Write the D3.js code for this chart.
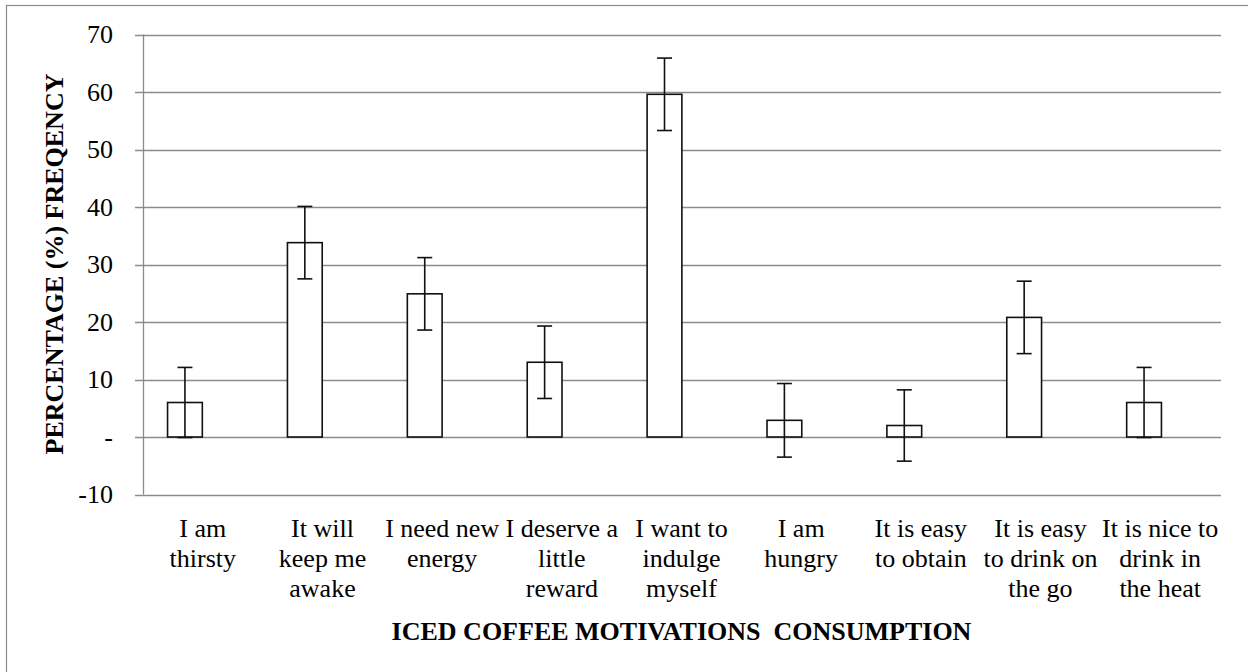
<!DOCTYPE html>
<html>
<head>
<meta charset="utf-8">
<script src="https://cdn.jsdelivr.net/npm/d3@7"></script>
<style>
  html, body { margin: 0; padding: 0; background: #fff; }
  svg { display: block; }
</style>
</head>
<body>
<svg id="chart" width="1248" height="672"></svg>
<script>
// ---- data ----
const categories = [
  "I am\nthirsty",
  "It will\nkeep me\nawake",
  "I need new\nenergy",
  "I deserve a\nlittle\nreward",
  "I want to\nindulge\nmyself",
  "I am\nhungry",
  "It is easy\nto obtain",
  "It is easy\nto drink on\nthe go",
  "It is nice to\ndrink in\nthe heat"
];
const values = [6, 33.8, 24.9, 13, 59.6, 2.9, 2, 20.8, 6];
const errors = [6.1, 6.3, 6.3, 6.3, 6.3, 6.4, 6.2, 6.3, 6.1];
const yTicks = [-10, 0, 10, 20, 30, 40, 50, 60, 70];
const yTickLabels = ["-10", "-", "10", "20", "30", "40", "50", "60", "70"];
const yTitle = "PERCENTAGE (%) FREQENCY";
const xTitle = "ICED COFFEE MOTIVATIONS  CONSUMPTION";

const FONT = "'Liberation Serif', 'Times New Roman', Times, 'DejaVu Serif', serif";

// ---- layout ----
const svg = d3.select("#chart");
const plotLeft = 143, plotRight = 1221;

const y = d3.scaleLinear().domain([-10, 70]).range([494.5, 34.5]);
const xLabel = d3.scaleBand().domain(d3.range(categories.length)).range([143, 1220]).padding(0);
const xBar = d3.scaleBand().domain(d3.range(categories.length)).range([125, 1204])
  .paddingInner(0.71).paddingOuter(0.355);

// outer border
svg.append("rect").attr("x", 6.5).attr("y", 5.5).attr("width", 1260).attr("height", 700)
  .attr("fill", "#fff").attr("stroke", "#8a8a8a").attr("stroke-width", 1.2);

// gridlines (also act as tick marks)
svg.append("g").selectAll("line").data(yTicks).join("line")
  .attr("x1", 135).attr("x2", plotRight)
  .attr("y1", d => Math.round(y(d)) + 0.5).attr("y2", d => Math.round(y(d)) + 0.5)
  .attr("stroke", "#8c8c8c").attr("stroke-width", 1.3);

// y axis line
svg.append("line").attr("x1", plotLeft + 0.5).attr("x2", plotLeft + 0.5)
  .attr("y1", y(70)).attr("y2", y(-10))
  .attr("stroke", "#8c8c8c").attr("stroke-width", 1.3);

// y tick labels
svg.append("g").selectAll("text").data(yTicks).join("text")
  .attr("font-family", FONT)
  .attr("x", 113).attr("y", d => y(d)).attr("dy", "0.33em")
  .attr("text-anchor", "end").attr("font-size", 26)
  .text((d, i) => yTickLabels[i]);

// bars
svg.append("g").selectAll("rect").data(values).join("rect")
  .attr("x", (d, i) => xBar(i))
  .attr("width", xBar.bandwidth())
  .attr("y", d => y(Math.max(0, d)))
  .attr("height", d => Math.abs(y(d) - y(0)))
  .attr("fill", "#fff").attr("stroke", "#111").attr("stroke-width", 1.6);

// error bars
const eg = svg.append("g").attr("stroke", "#111").attr("stroke-width", 1.6);
values.forEach((v, i) => {
  const cx = xBar(i) + xBar.bandwidth() / 2;
  const hi = y(v + errors[i]), lo = y(v - errors[i]);
  eg.append("line").attr("x1", cx).attr("x2", cx).attr("y1", hi).attr("y2", lo);
  eg.append("line").attr("x1", cx - 7.5).attr("x2", cx + 7.5).attr("y1", hi).attr("y2", hi);
  eg.append("line").attr("x1", cx - 7.5).attr("x2", cx + 7.5).attr("y1", lo).attr("y2", lo);
});

// category labels
const lg = svg.append("g");
categories.forEach((c, i) => {
  const t = lg.append("text").attr("font-family", FONT)
    .attr("text-anchor", "middle").attr("font-size", 26)
    .attr("x", xLabel(i) + xLabel.bandwidth() / 2).attr("y", 537);
  c.split("\n").forEach((line, j) => {
    t.append("tspan").attr("x", xLabel(i) + xLabel.bandwidth() / 2)
      .attr("dy", j === 0 ? 0 : 30).text(line);
  });
});

// axis titles
svg.append("text").attr("font-family", FONT)
  .attr("x", (plotLeft + 1220) / 2).attr("y", 640)
  .attr("text-anchor", "middle").attr("font-size", 26).attr("font-weight", "bold")
  .attr("xml:space", "preserve").style("white-space", "pre")
  .text(xTitle);

svg.append("text").attr("font-family", FONT)
  .attr("transform", "translate(63,264) rotate(-90)")
  .attr("text-anchor", "middle").attr("font-size", 26).attr("font-weight", "bold")
  .text(yTitle);
</script>
</body>
</html>
